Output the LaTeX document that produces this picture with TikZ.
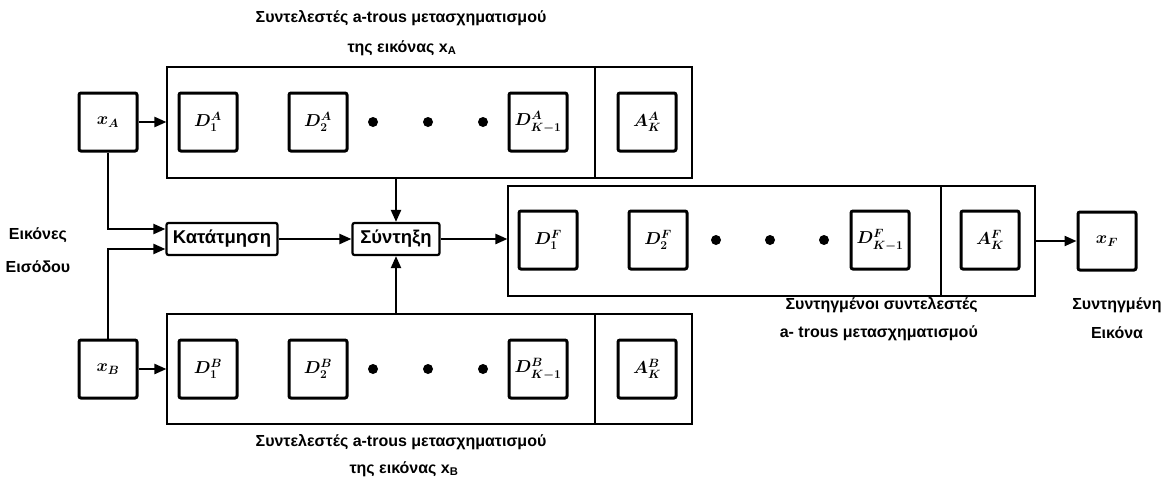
\documentclass[tikz,border=0pt]{standalone}
\usepackage{fontspec}
\setmainfont{Liberation Sans}
\usetikzlibrary{arrows.meta}
\tikzset{
  coef/.style={draw, line width=3pt, rounded corners=2pt, minimum width=58pt,
    minimum height=58pt, inner sep=0pt,
    font=\fontsize{18}{18}\selectfont\boldmath},
  group/.style={draw, line width=1.1pt, inner sep=0pt},
  proc/.style={draw, line width=2.2pt, rounded corners=2pt, minimum height=32pt,
    inner sep=1pt, font=\bfseries\fontsize{18.5}{19}\selectfont},
  flow/.style={line width=2.2pt, -{Triangle[length=12pt,width=10pt]}},
  bullet/.style={circle, fill, inner sep=0pt, minimum size=10pt},
  note/.style={font=\bfseries\fontsize{16}{17}\selectfont, inner sep=0pt}
}
\begin{document}
\begin{tikzpicture}[x=1pt, y=-1pt]
\useasboundingbox (0,0) rectangle (1167,482);
% Coefficient groups of the three rows.
\node[group, minimum width=525pt, minimum height=111pt] (grpA) at (429.5,122.5) {};
\node[group, minimum width=527pt, minimum height=110pt] (grpF) at (771.5,241) {};
\node[group, minimum width=525pt, minimum height=110pt] (grpB) at (429.5,369) {};
\draw[line width=1.1pt] (595,67) -- (595,178);
\draw[line width=1.1pt] (941,186) -- (941,296);
\draw[line width=1.1pt] (595,314) -- (595,424);
% Input image A and its coefficients.
\node[coef] (xA) at (108,122) {$x_A$};
\node[coef] (DA1) at (208,122) {$D_1^A$};
\node[coef] (DA2) at (318,122) {$D_2^A$};
\foreach \x in {373,428,483} \node[bullet] at (\x,122) {};
\node[coef] (DAK) at (538,122) {$D_{K-1}^A$};
\node[coef] (AAK) at (647,122) {$A_K^A$};
% Fused coefficients and fused image.
\node[coef] (DF1) at (548,240) {$D_1^F$};
\node[coef] (DF2) at (658,240) {$D_2^F$};
\foreach \x in {716,770,824} \node[bullet] at (\x,240) {};
\node[coef] (DFK) at (880,240) {$D_{K-1}^F$};
\node[coef] (AFK) at (990,240) {$A_K^F$};
\node[coef] (xF) at (1107,241) {$x_F$};
% Input image B and its coefficients.
\node[coef] (xB) at (108,369) {$x_B$};
\node[coef] (DB1) at (208,369) {$D_1^B$};
\node[coef] (DB2) at (318,369) {$D_2^B$};
\foreach \x in {373,428,483} \node[bullet] at (\x,369) {};
\node[coef] (DBK) at (538,369) {$D_{K-1}^B$};
\node[coef] (ABK) at (647,369) {$A_K^B$};
% Segmentation and fusion.
\node[proc, minimum width=111pt] (split) at (222,239) {Κατάτμηση};
\node[proc, minimum width=87pt] (fuse) at (396,239) {Σύντηξη};
% Connections.
\draw[flow] (xA.east) -- (xA.east -| grpA.west);
\draw[flow] (xB.east) -- (xB.east -| grpB.west);
\draw[flow] (xA.south) |- (split.170);
\draw[flow] (xB.north) |- (split.190);
\draw[flow] (split) -- (fuse);
\draw[flow] (fuse.north |- grpA.south) -- (fuse.north);
\draw[flow] (fuse.south |- grpB.north) -- (fuse.south);
\draw[flow] (fuse.east) -- (fuse.east -| grpF.west);
\draw[flow] (grpF.east |- xF.west) -- (xF.west);
% Captions.
\node[note] (capA1) at (401,18) {Συντελεστές a-trous μετασχηματισμού};
\node[note] (capA2) at (402,48) {της εικόνας x\textsubscript{A}};
\node[note] (capB1) at (401,442) {Συντελεστές a-trous μετασχηματισμού};
\node[note] (capB2) at (404,469) {της εικόνας x\textsubscript{B}};
\node[note, anchor=east] (capF1) at (978,305) {Συντηγμένοι συντελεστές};
\node[note, anchor=east] (capF2) at (978,333) {a- trous μετασχηματισμού};
\node[note] (capIn1) at (38,235) {Εικόνες};
\node[note] (capIn2) at (38,267) {Εισόδου};
\node[note] (capOut1) at (1117,305) {Συντηγμένη};
\node[note] (capOut2) at (1117,333) {Εικόνα};
\end{tikzpicture}
\end{document}
